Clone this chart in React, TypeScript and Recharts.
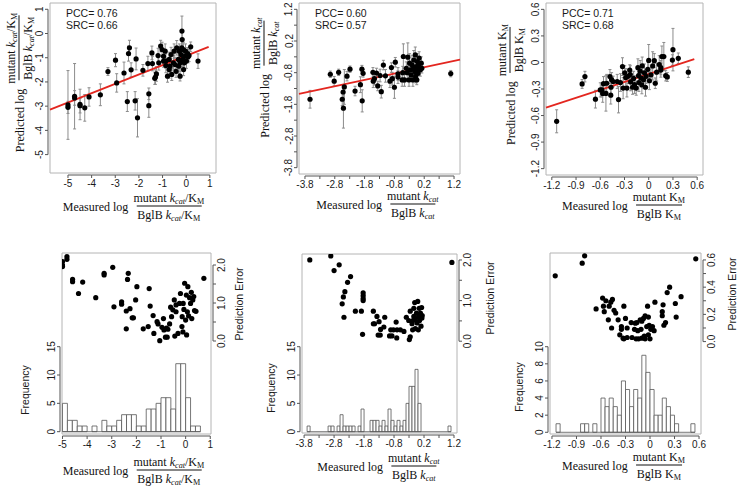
import React from 'react'
import { ComposedChart, Scatter, XAxis, YAxis, ErrorBar, ReferenceLine, ReferenceArea } from 'recharts'

// ---- top row: predicted vs measured, [measured, predicted, error half-width]
const kcatKmPoints = [
  [-5.0, -2.95, 1.42], [-5.0, -3.05, 0.25], [-4.72, -2.59, 1.35], [-4.72, -2.66, 0.3], [-4.49, -2.93, 0.63],
  [-4.49, -2.98, 0.3], [-4.29, -3.07, 0.55], [-4.11, -2.62, 0.38], [-3.63, -2.53, 0.45], [-3.31, -1.57, 0.16],
  [-2.99, -1.1, 0.27], [-2.94, -2.04, 0.38], [-2.63, -1.63, 0.45], [-2.49, -2.81, 0.41], [-2.44, -0.83, 0.31],
  [-2.4, -0.59, 0.31], [-2.33, -1.5, 0.29], [-2.16, -2.78, 0.38], [-2.12, -1.05, 0.45], [-2.06, -3.48, 0.79],
  [-1.83, -1.52, 0.24], [-1.62, -1.24, 0.3], [-1.58, -2.49, 0.24], [-1.58, -2.98, 0.48], [-1.45, -0.8, 0.28],
  [-1.43, -1.24, 0.3], [-1.33, -1.85, 0.25], [-1.26, -1.67, 0.3], [-1.19, -0.91, 0.3], [-1.16, -1.21, 0.3],
  [-1.08, -0.52, 0.24], [-1.02, -0.66, 0.3], [-0.96, -0.94, 0.3], [-0.96, -1.14, 0.25], [-0.89, -0.73, 0.3],
  [-0.86, -1.32, 0.3], [-0.79, -1.76, 0.25], [-0.72, -1.07, 0.3], [-0.72, -1.49, 0.35], [-0.64, -0.87, 0.3],
  [-0.61, -1.69, 0.25], [-0.54, -1.21, 0.3], [-0.51, -0.73, 0.3], [-0.47, -1.28, 0.3], [-0.43, -1.56, 0.25],
  [-0.4, -0.59, 0.3], [-0.33, -1.07, 0.3], [-0.32, -1.35, 0.3], [-0.29, -0.73, 0.3], [-0.26, -1.76, 0.2],
  [-0.22, -0.87, 0.3], [-0.19, -0.59, 0.3], [-0.18, 0.1, 0.62], [-0.17, -0.25, 0.3], [-0.15, -1.07, 0.3],
  [-0.12, -0.66, 0.3], [-0.11, -1.49, 0.25], [-0.06, -0.94, 0.3], [-0.03, -0.73, 0.3], [0.01, -1.14, 0.3],
  [0.06, -0.83, 0.25], [0.08, -0.96, 0.25], [0.12, -0.91, 0.25], [0.19, -0.55, 0.2], [0.5, -1.14, 0.3],
  [-0.26, -1.21, 0.3], [-0.19, -1.14, 0.3], [-0.08, -1.21, 0.3], [-0.86, -1.14, 0.3], [-0.68, -1.35, 0.3],
  [-1.3, -1.8, 0.3],
]
const kcatKmFit = [[-5.76, -3.14], [0.95, -0.55]]

const kcatPoints = [
  [-3.63, -1.64, 0.28], [-2.95, -0.85, 0.1], [-2.82, -1.07, 0.15], [-2.67, -0.79, 0.1], [-2.55, -1.64, 0.2],
  [-2.52, -1.41, 0.2], [-2.51, -1.92, 0.63], [-2.48, -1.25, 0.55], [-2.39, -0.91, 0.15], [-2.29, -0.69, 0.1],
  [-2.12, -1.38, 0.15], [-1.94, -1.18, 0.25], [-1.89, -0.69, 0.12], [-1.88, -1.69, 0.35], [-1.85, -0.82, 0.12],
  [-1.52, -0.79, 0.15], [-1.51, -1.07, 0.2], [-1.47, -0.99, 0.2], [-1.4, -0.81, 0.15], [-1.36, -1.22, 0.15],
  [-1.28, -0.89, 0.2], [-1.24, -1.4, 0.2], [-1.17, -0.56, 0.15], [-1.1, -0.9, 0.2], [-0.95, -1.07, 0.2],
  [-0.9, -0.64, 0.15], [-0.87, -0.99, 0.2], [-0.8, -1.26, 0.35], [-0.77, -0.47, 0.15], [-0.68, -0.94, 0.2],
  [-0.68, -0.84, 0.2], [-0.5, -0.29, 0.4], [-0.52, -0.8, 0.2], [-0.46, -1.03, 0.2], [-0.4, -0.66, 0.2],
  [-0.35, -0.31, 0.45], [-0.31, -1.03, 0.2], [-0.29, -0.5, 0.3], [-0.26, -0.71, 0.25], [-0.21, -0.55, 0.3],
  [-0.18, -1.03, 0.2], [-0.15, -0.4, 0.3], [-0.12, -0.76, 0.2], [-0.1, -0.24, 0.25], [-0.07, -0.61, 0.25],
  [-0.05, -1.03, 0.15], [-0.03, -0.45, 0.25], [-0.01, -0.82, 0.2], [0.01, -0.55, 0.2], [0.03, -0.34, 0.2],
  [0.07, -0.71, 0.2], [0.1, -0.5, 0.2], [-0.24, -0.87, 0.2], [-0.37, -0.8, 0.2], [-0.09, -0.92, 0.2],
  [0.12, -0.66, 0.15], [1.09, -0.83, 0.1], [-0.54, -1.03, 0.2], [-0.16, -0.66, 0.2], [0.01, -0.69, 0.2],
]
const kcatFit = [[-4.0, -1.47], [1.4, -0.39]]

const kmPoints = [
  [-1.14, -0.665, 0.13], [-0.825, -0.243, 0.05], [-0.79, -0.16, 0.06], [-0.66, -0.415, 0.1], [-0.58, -0.31, 0.08],
  [-0.56, -0.24, 0.08], [-0.57, -0.35, 0.1], [-0.53, -0.35, 0.2], [-0.52, -0.235, 0.1], [-0.47, -0.37, 0.1],
  [-0.48, -0.16, 0.08], [-0.46, -0.195, 0.08], [-0.44, -0.215, 0.06], [-0.39, -0.215, 0.08], [-0.374, -0.42, 0.15],
  [-0.35, -0.227, 0.1], [-0.325, -0.047, 0.1], [-0.317, -0.29, 0.12], [-0.297, -0.117, 0.08], [-0.285, -0.17, 0.1],
  [-0.27, -0.29, 0.1], [-0.235, -0.086, 0.06], [-0.224, -0.22, 0.1], [-0.2, -0.28, 0.08], [-0.187, -0.18, 0.08],
  [-0.175, -0.25, 0.1], [-0.155, -0.29, 0.08], [-0.134, -0.059, 0.1], [-0.126, -0.149, 0.08], [-0.122, -0.227, 0.1],
  [-0.106, -0.098, 0.12], [-0.094, -0.176, 0.08], [-0.085, -0.254, 0.1], [-0.081, -0.039, 0.1], [-0.065, -0.196, 0.1],
  [-0.053, -0.117, 0.1], [-0.04, -0.28, 0.1], [-0.033, -0.157, 0.08], [-0.012, -0.078, 0.1], [0.0, 0.023, 0.18],
  [0.008, -0.207, 0.1], [0.028, -0.14, 0.08], [0.049, -0.039, 0.16], [0.069, 0.02, 0.08], [0.081, -0.235, 0.06],
  [0.098, -0.11, 0.1], [0.13, -0.023, 0.1], [0.15, -0.059, 0.08], [0.15, -0.086, 0.08], [0.163, 0.066, 0.12],
  [0.187, 0.066, 0.16], [0.21, -0.149, 0.06], [0.23, -0.164, 0.05], [0.293, 0.027, 0.06], [0.3, 0.145, 0.24],
  [0.366, 0.047, 0.06], [0.49, -0.11, 0.06], [-0.256, -0.157, 0.08], [-0.228, -0.137, 0.1], [-0.467, -0.28, 0.08],
  [-0.6, -0.31, 0.08],
]
const kmFit = [[-1.272, -0.51], [0.564, 0.038]]

const pccValues = ['0.76', '0.60', '0.71']
const srcValues = ['0.66', '0.57', '0.68']

// ---- bottom row: prediction error vs measured, plus histogram of measured
const kcatKmErrors = [
  [-5.0, 2.09], [-5.0, 2.0], [-5.0, 1.96], [-4.82, 2.22], [-4.82, 2.15], [-4.59, 1.62], [-4.59, 1.56], [-4.18, 1.55],
  [-4.35, 1.25], [-3.65, 1.14], [-3.31, 1.78], [-3.31, 1.74], [-2.96, 1.94], [-2.91, 0.9], [-2.6, 1.03], [-2.6, 0.97],
  [-2.33, 1.78], [-2.36, 1.62], [-2.41, 0.79], [-2.26, 0.85], [-2.41, 0.32], [-2.17, 0.61], [-2.12, 0.61], [-2.03, 1.08],
  [-1.98, 1.43], [-1.72, 0.32], [-1.52, 0.38], [-1.48, 1.38], [-1.44, 0.92], [-1.32, 0.67], [-1.29, 0.2], [-1.16, 0.51],
  [-1.12, 0.45], [-1.05, 0.01], [-0.96, 0.36], [-0.9, 0.59], [-0.88, 0.29], [-0.82, 0.1], [-0.78, 0.34], [-0.72, 0.31],
  [-0.75, 0.1], [-0.65, 0.45], [-0.61, 0.89], [-0.57, 0.64], [-0.52, 0.82], [-0.46, 1.08], [-0.44, 0.13], [-0.39, 0.77],
  [-0.39, 0.95], [-0.31, 0.2], [-0.25, 0.99], [-0.21, 1.25], [-0.15, 0.38], [-0.14, 0.64], [-0.11, 0.24], [-0.1, 0.99],
  [-0.07, 0.83], [-0.04, 1.52], [0.0, 0.55], [0.03, 1.21], [0.04, 0.16], [0.07, 0.77], [0.09, 1.43], [0.12, 0.66],
  [0.16, 1.14], [0.2, 0.99], [0.23, 1.28], [0.25, 0.59], [0.29, 1.08], [0.33, 1.17], [0.36, 0.8], [0.42, 0.78],
  [0.74, 1.65],
]
const kcatKmBreaks = [-5.0, -4.8, -4.6, -4.4, -4.2, -4.0, -3.8, -3.6, -3.4, -3.2, -3.0, -2.8, -2.6, -2.4, -2.2,
  -2.0, -1.8, -1.6, -1.4, -1.2, -1.0, -0.8, -0.6, -0.4, -0.2, 0, 0.2, 0.4, 0.6]
const kcatKmCounts = [5, 2, 2, 1, 1, 0, 1, 0, 2, 1, 1, 2, 3, 3, 3, 1, 1, 4, 4, 5, 6, 6, 4, 12, 12, 6, 1, 1]

const kcatErrors = [
  [-3.61, 2.0], [-2.91, 2.1], [-2.8, 1.74], [-2.63, 1.88], [-2.25, 1.59], [-2.35, 1.45], [-2.44, 1.22], [-2.49, 1.09],
  [-2.53, 0.92], [-2.47, 0.59], [-2.09, 0.74], [-1.89, 0.74], [-1.83, 1.19], [-1.83, 1.12], [-1.83, 1.05], [-1.83, 1.0],
  [-1.85, 0.17], [-1.49, 0.74], [-1.49, 0.43], [-1.45, 0.43], [-1.37, 0.61], [-1.3, 0.48], [-1.25, 0.29], [-1.33, 0.15],
  [-1.26, 0.15], [-1.11, 0.59], [-1.14, 0.35], [-0.95, 0.13], [-0.87, 0.13], [-0.91, 0.28], [-0.82, 0.28], [-0.73, 0.47],
  [-0.7, 0.28], [-0.71, 0.08], [-0.59, 0.28], [-0.47, 0.24], [-0.39, 0.59], [-0.29, 0.04], [-0.26, 0.11], [-0.26, 0.74],
  [-0.31, 0.51], [-0.2, 0.43], [-0.18, 0.28], [-0.14, 0.81], [-0.11, 0.95], [-0.09, 0.55], [-0.09, 0.31], [-0.05, 0.69],
  [-0.03, 0.45], [-0.01, 0.98], [0.01, 0.28], [0.02, 0.61], [0.04, 0.81], [0.05, 0.51], [0.08, 0.69], [0.1, 0.37],
  [0.12, 0.83], [0.13, 0.57], [0.14, 0.63], [-0.14, 0.61], [-0.17, 0.51], [1.13, 1.94],
]
const kcatBreaks = [-3.7, -3.6, -3.5, -3.4, -3.3, -3.2, -3.1, -3.0, -2.9, -2.8, -2.7, -2.6, -2.5, -2.4, -2.3, -2.2,
  -2.1, -2.0, -1.9, -1.8, -1.7, -1.6, -1.5, -1.4, -1.3, -1.2, -1.1, -1.0, -0.9, -0.8, -0.7, -0.6, -0.5, -0.4, -0.3,
  -0.2, -0.1, 0, 0.1, 0.2, 0.3, 0.4, 0.5, 0.6, 0.7, 0.8, 0.9, 1.0, 1.1]
const kcatCounts = [1, 0, 0, 0, 0, 0, 0, 1, 1, 0, 1, 3, 1, 1, 1, 1, 0, 1, 4, 0, 0, 2, 2, 2, 1, 2, 1, 4, 2, 1, 2, 1,
  2, 5, 8, 8, 11, 5, 0, 0, 0, 0, 0, 0, 0, 0, 0, 1]

const kmErrors = [
  [-1.16, 0.483], [-0.83, 0.576], [-0.8, 0.63], [0.56, 0.608], [-0.66, 0.24], [-0.58, 0.32], [-0.57, 0.26], [-0.56, 0.22],
  [-0.54, 0.3], [-0.51, 0.16], [-0.5, 0.26], [-0.48, 0.29], [-0.46, 0.31], [-0.47, 0.1], [-0.44, 0.23], [-0.42, 0.21],
  [-0.39, 0.16], [-0.37, 0.05], [-0.35, 0.11], [-0.35, 0.09], [-0.32, 0.26], [-0.33, 0.025], [-0.3, 0.17], [-0.32, 0.02],
  [-0.28, 0.1], [-0.28, 0.03], [-0.23, 0.14], [-0.22, 0.03], [-0.19, 0.09], [-0.18, 0.135], [-0.17, 0.02], [-0.16, 0.14],
  [-0.15, 0.08], [-0.14, 0.02], [-0.12, 0.16], [-0.11, 0.09], [-0.1, 0.15], [-0.1, 0.025], [-0.08, 0.17], [-0.07, 0.04],
  [-0.06, 0.19], [-0.06, 0.02], [-0.04, 0.11], [-0.03, 0.26], [-0.02, 0.18], [-0.02, 0.05], [-0.01, 0.12], [0.0, 0.02],
  [0.01, 0.09], [0.03, 0.11], [0.05, 0.08], [0.06, 0.29], [0.15, 0.19], [0.15, 0.22], [0.16, 0.27], [0.17, 0.12],
  [0.19, 0.14], [0.21, 0.36], [0.24, 0.4], [0.31, 0.28], [0.32, 0.18], [0.38, 0.33],
]
const kmBreaks = [-1.15, -1.1, -1.05, -1.0, -0.95, -0.9, -0.85, -0.8, -0.75, -0.7, -0.65, -0.6, -0.55, -0.5, -0.45,
  -0.4, -0.35, -0.3, -0.25, -0.2, -0.15, -0.1, -0.05, 0, 0.05, 0.1, 0.15, 0.2, 0.25, 0.3, 0.35, 0.4, 0.45, 0.5, 0.55]
const kmCounts = [1, 0, 0, 0, 0, 0, 1, 1, 0, 1, 0, 4, 3, 4, 3, 2, 6, 5, 3, 5, 4, 9, 7, 5, 2, 2, 4, 3, 2, 1, 0, 0, 0, 1]

// ---- ticks
const kcatKmTicks = [-5, -4, -3, -2, -1, 0, 1]
const kcatTicks = [-3.8, -3.3, -2.8, -2.3, -1.8, -1.3, -0.8, -0.3, 0.2, 0.7, 1.2]
const kcatTickLabels = [-3.8, -2.8, -1.8, -0.8, 0.2, 1.2]
const kmTicks = [-1.2, -0.9, -0.6, -0.3, 0, 0.3, 0.6]
const freqTicks = [0, 5, 10, 15]
const kmFreqTicks = [0, 2, 4, 6, 8, 10]
const errTicks = [0, 0.5, 1, 1.5, 2]
const errTickLabels = [0, 1, 2]
const kmErrTicks = [0, 0.1, 0.2, 0.3, 0.4, 0.5, 0.6]
const kmErrTickLabels = [0, 0.2, 0.4, 0.6]

// ---- style
const SANS = '"Liberation Sans", Arial, sans-serif'
const SERIF = '"Liberation Serif", "Times New Roman", serif'
const INK = '#1a1a1a'
const AXIS = '#555'
const BOX = '#b4b4b4'
const OFF = 2
const LEN = 3
const GAP = 1.5
const CAP = 7.2
const FS = 10

const xTick = (ticks: number[], labels: number[], stepPx: number, fmt: (v: number) => string) => (p: any) => {
  const v = p.payload.value
  const ay = p.y + OFF
  return (
    <g>
      {v !== ticks[ticks.length - 1] && <line x1={p.x} y1={ay} x2={p.x + stepPx} y2={ay} stroke={AXIS} />}
      <line x1={p.x} y1={ay} x2={p.x} y2={ay + LEN} stroke={AXIS} />
      {labels.includes(v) && (
        <text x={p.x} y={ay + LEN + GAP + CAP} textAnchor="middle" fontFamily={SANS} fontSize={FS} fill={INK}>
          {fmt(v)}
        </text>
      )}
    </g>
  )
}

const yTick = (ticks: number[], labels: number[], stepPx: number, side: string, fmt: (v: number) => string) => (p: any) => {
  const v = p.payload.value
  const s = side === 'left' ? -1 : 1
  const ax = p.x + s * OFF
  const tx = side === 'left' ? ax - LEN - GAP : ax + LEN + GAP + CAP
  return (
    <g>
      {v !== ticks[ticks.length - 1] && <line x1={ax} y1={p.y} x2={ax} y2={p.y - stepPx} stroke={AXIS} />}
      <line x1={ax} y1={p.y} x2={ax + s * LEN} y2={p.y} stroke={AXIS} />
      {labels.includes(v) && (
        <text x={tx} y={p.y} transform={`rotate(-90 ${tx} ${p.y})`} textAnchor="middle" fontFamily={SANS} fontSize={FS} fill={INK}>
          {fmt(v)}
        </text>
      )}
    </g>
  )
}

const dot = (p: any) => <circle cx={p.cx} cy={p.cy} r={2.6} fill="#000" />
const stepOf = (ticks: number[], domain: number[], size: number) => ((ticks[1] - ticks[0]) / (domain[1] - domain[0])) * size

function TopPanel({ geo, domain, ticks, labels, points, fit, pcc, src }: any) {
  const padL = 22, padR = 4, padB = 24
  const data = points.map(([x, y, e]: number[]) => ({ x, y, e }))
  const fmt = (v: number) => String(v)
  return (
    <div style={{ position: 'absolute', left: geo.left - padL, top: 0 }}>
      <ComposedChart width={padL + geo.width + padR} height={geo.top + geo.height + padB}
        margin={{ top: geo.top, right: padR, bottom: 0, left: 0 }}>
        <XAxis type="number" dataKey="x" domain={domain} allowDataOverflow ticks={ticks} interval={0} height={padB}
          tickSize={0} tickMargin={0} axisLine={false} tickLine={false}
          tick={xTick(ticks, labels, stepOf(ticks, domain, geo.width), fmt)} />
        <YAxis type="number" dataKey="y" domain={domain} allowDataOverflow ticks={ticks} interval={0} width={padL}
          tickSize={0} tickMargin={0} axisLine={false} tickLine={false}
          tick={yTick(ticks, labels, stepOf(ticks, domain, geo.height), 'left', fmt)} />
        <ReferenceArea x1={domain[0]} x2={domain[1]} y1={domain[0]} y2={domain[1]} fill="none" stroke={BOX} />
        <Scatter data={data} dataKey="y" shape={dot} isAnimationActive={false}>
          <ErrorBar dataKey="e" direction="y" width={1.5} stroke="#8c8c8c" strokeWidth={1} />
        </Scatter>
        <ReferenceLine segment={[{ x: fit[0][0], y: fit[0][1] }, { x: fit[1][0], y: fit[1][1] }]}
          stroke="#e3261f" strokeWidth={1.8} ifOverflow="visible" />
      </ComposedChart>
      <div style={{ position: 'absolute', left: padL + 16, top: 8, fontFamily: SANS, fontSize: 10.5, lineHeight: '11.5px', color: INK }}>
        <div>PCC= {pcc}</div>
        <div>SRC= {src}</div>
      </div>
    </div>
  )
}

function BottomPanel({ geo, xDomain, xTicks, xLabels, freqDomain, fTicks, errDomain, eTicks, eLabels, breaks, counts, errors }: any) {
  const padL = 22, padR = 26, padB = 24, top = 240
  const data = errors.map(([x, y]: number[]) => ({ x, y }))
  const last = breaks.length - 1
  return (
    <div style={{ position: 'absolute', left: geo.left - padL, top }}>
      <ComposedChart width={padL + geo.width + padR} height={geo.top - top + geo.height + padB}
        margin={{ top: geo.top - top, right: 0, bottom: 0, left: 0 }}>
        <XAxis xAxisId="m" type="number" dataKey="x" domain={xDomain} allowDataOverflow ticks={xTicks} interval={0}
          height={padB} tickSize={0} tickMargin={0} axisLine={false} tickLine={false}
          tick={xTick(xTicks, xLabels, stepOf(xTicks, xDomain, geo.width), String)} />
        <YAxis yAxisId="f" orientation="left" type="number" domain={freqDomain} allowDataOverflow ticks={fTicks}
          interval={0} width={padL} tickSize={0} tickMargin={0} axisLine={false} tickLine={false}
          tick={yTick(fTicks, fTicks, stepOf(fTicks, freqDomain, geo.height), 'left', String)} />
        <YAxis yAxisId="e" orientation="right" type="number" dataKey="y" domain={errDomain} allowDataOverflow
          ticks={eTicks} interval={0} width={padR} tickSize={0} tickMargin={0} axisLine={false} tickLine={false}
          tick={yTick(eTicks, eLabels, stepOf(eTicks, errDomain, geo.height), 'right', (v: number) => v.toFixed(1))} />
        <ReferenceArea xAxisId="m" yAxisId="f" x1={xDomain[0]} x2={xDomain[1]} y1={freqDomain[0]} y2={freqDomain[1]}
          fill="none" stroke={BOX} />
        {counts.map((c: number, i: number) =>
          c > 0 ? (
            <ReferenceArea key={i} xAxisId="m" yAxisId="f" x1={breaks[i]} x2={breaks[i + 1]} y1={0} y2={c}
              fill="#fff" fillOpacity={1} stroke="#555" strokeWidth={0.8} />
          ) : null
        )}
        <ReferenceLine xAxisId="m" yAxisId="f" segment={[{ x: breaks[0], y: 0 }, { x: breaks[last], y: 0 }]}
          stroke="#555" strokeWidth={0.8} />
        <Scatter xAxisId="m" yAxisId="e" data={data} dataKey="y" shape={dot} isAnimationActive={false} />
      </ComposedChart>
    </div>
  )
}

const SUB: React.CSSProperties = { fontSize: '0.68em', verticalAlign: '-0.3em', lineHeight: 0 }
const kcat = <><i>k</i><sub style={SUB}><i>cat</i></sub></>
const km = <>K<sub style={SUB}>M</sub></>

function Title({ cx, cy, lead, num, den, rotate }: any) {
  return (
    <div style={{
      position: 'absolute', left: cx, top: cy, transform: `translate(-50%, -50%)${rotate ? ' rotate(-90deg)' : ''}`,
      display: 'flex', alignItems: 'center', whiteSpace: 'nowrap', fontFamily: SERIF, fontSize: 12, color: '#111', lineHeight: 1,
    }}>
      <span>{lead}</span>
      <span style={{ display: 'inline-flex', flexDirection: 'column', alignItems: 'center', marginLeft: 4 }}>
        <span style={{ padding: '0 1px 2px' }}>{num}</span>
        <span style={{ borderTop: '1px solid #111', padding: '2px 1px 0' }}>{den}</span>
      </span>
    </div>
  )
}

function SideLabel({ cx, cy, text }: any) {
  return (
    <div style={{
      position: 'absolute', left: cx, top: cy, transform: 'translate(-50%, -50%) rotate(-90deg)',
      whiteSpace: 'nowrap', fontFamily: SANS, fontSize: 10.5, color: INK, lineHeight: 1,
    }}>{text}</div>
  )
}

const fracs = [
  { num: <>mutant {kcat}/{km}</>, den: <>BglB {kcat}/{km}</> },
  { num: <>mutant {kcat}</>, den: <>BglB {kcat}</> },
  { num: <>mutant {km}</>, den: <>BglB {km}</> },
]

export default function App() {
  return (
    <div style={{ position: 'absolute', left: 0, top: 0, width: 738, height: 492, background: '#fff', overflow: 'hidden' }}>
      <TopPanel geo={{ left: 50, top: 3, width: 166, height: 170 }} domain={[-5.76, 1.26]} ticks={kcatKmTicks}
        labels={kcatKmTicks} points={kcatKmPoints} fit={kcatKmFit} pcc={pccValues[0]} src={srcValues[0]} />
      <TopPanel geo={{ left: 299, top: 3, width: 161, height: 171 }} domain={[-4.0, 1.4]} ticks={kcatTicks}
        labels={kcatTickLabels} points={kcatPoints} fit={kcatFit} pcc={pccValues[1]} src={srcValues[1]} />
      <TopPanel geo={{ left: 546, top: 3, width: 157, height: 172 }} domain={[-1.272, 0.672]} ticks={kmTicks}
        labels={kmTicks} points={kmPoints} fit={kmFit} pcc={pccValues[2]} src={srcValues[2]} />

      <BottomPanel geo={{ left: 62, top: 253, width: 149, height: 181 }} xDomain={[-5.02, 1.03]} xTicks={kcatKmTicks}
        xLabels={kcatKmTicks} freqDomain={[-0.41, 31.53]} fTicks={freqTicks} errDomain={[-2.447, 2.316]}
        eTicks={errTicks} eLabels={errTickLabels} breaks={kcatKmBreaks} counts={kcatKmCounts} errors={kcatKmErrors} />
      <BottomPanel geo={{ left: 302, top: 254, width: 155, height: 179 }} xDomain={[-3.87, 1.3]} xTicks={kcatTicks}
        xLabels={kcatTickLabels} freqDomain={[-0.23, 31.36]} fTicks={freqTicks} errDomain={[-2.26, 2.147]}
        eTicks={errTicks} eLabels={errTickLabels} breaks={kcatBreaks} counts={kcatCounts} errors={kcatErrors} />
      <BottomPanel geo={{ left: 550, top: 253, width: 151, height: 181 }} xDomain={[-1.224, 0.624]} xTicks={kmTicks}
        xLabels={kmTicks} freqDomain={[-0.2, 20.95]} fTicks={kmFreqTicks} errDomain={[-0.679, 0.651]}
        eTicks={kmErrTicks} eLabels={kmErrTickLabels} breaks={kmBreaks} counts={kmCounts} errors={kmErrors} />

      <Title cx={134} cy={206} lead="Measured log" num={fracs[0].num} den={fracs[0].den} />
      <Title cx={378} cy={204} lead="Measured log" num={fracs[1].num} den={fracs[1].den} />
      <Title cx={624} cy={205} lead="Measured log" num={fracs[2].num} den={fracs[2].den} />
      <Title cx={19} cy={82} lead="Predicted log" num={fracs[0].num} den={fracs[0].den} rotate />
      <Title cx={264} cy={77} lead="Predicted log" num={fracs[1].num} den={fracs[1].den} rotate />
      <Title cx={510} cy={84} lead="Predicted log" num={fracs[2].num} den={fracs[2].den} rotate />

      <Title cx={134} cy={470} lead="Measured log" num={fracs[0].num} den={fracs[0].den} />
      <Title cx={379} cy={466} lead="Measured log" num={fracs[1].num} den={fracs[1].den} />
      <Title cx={624} cy={465} lead="Measured log" num={fracs[2].num} den={fracs[2].den} />
      <SideLabel cx={25} cy={390} text="Frequency" />
      <SideLabel cx={271} cy={388} text="Frequency" />
      <SideLabel cx={519} cy={387} text="Frequency" />
      <SideLabel cx={239} cy={304} text="Prediction Error" />
      <SideLabel cx={490} cy={298} text="Prediction Error" />
      <SideLabel cx={732} cy={294} text="Prediction Error" />
    </div>
  )
}
